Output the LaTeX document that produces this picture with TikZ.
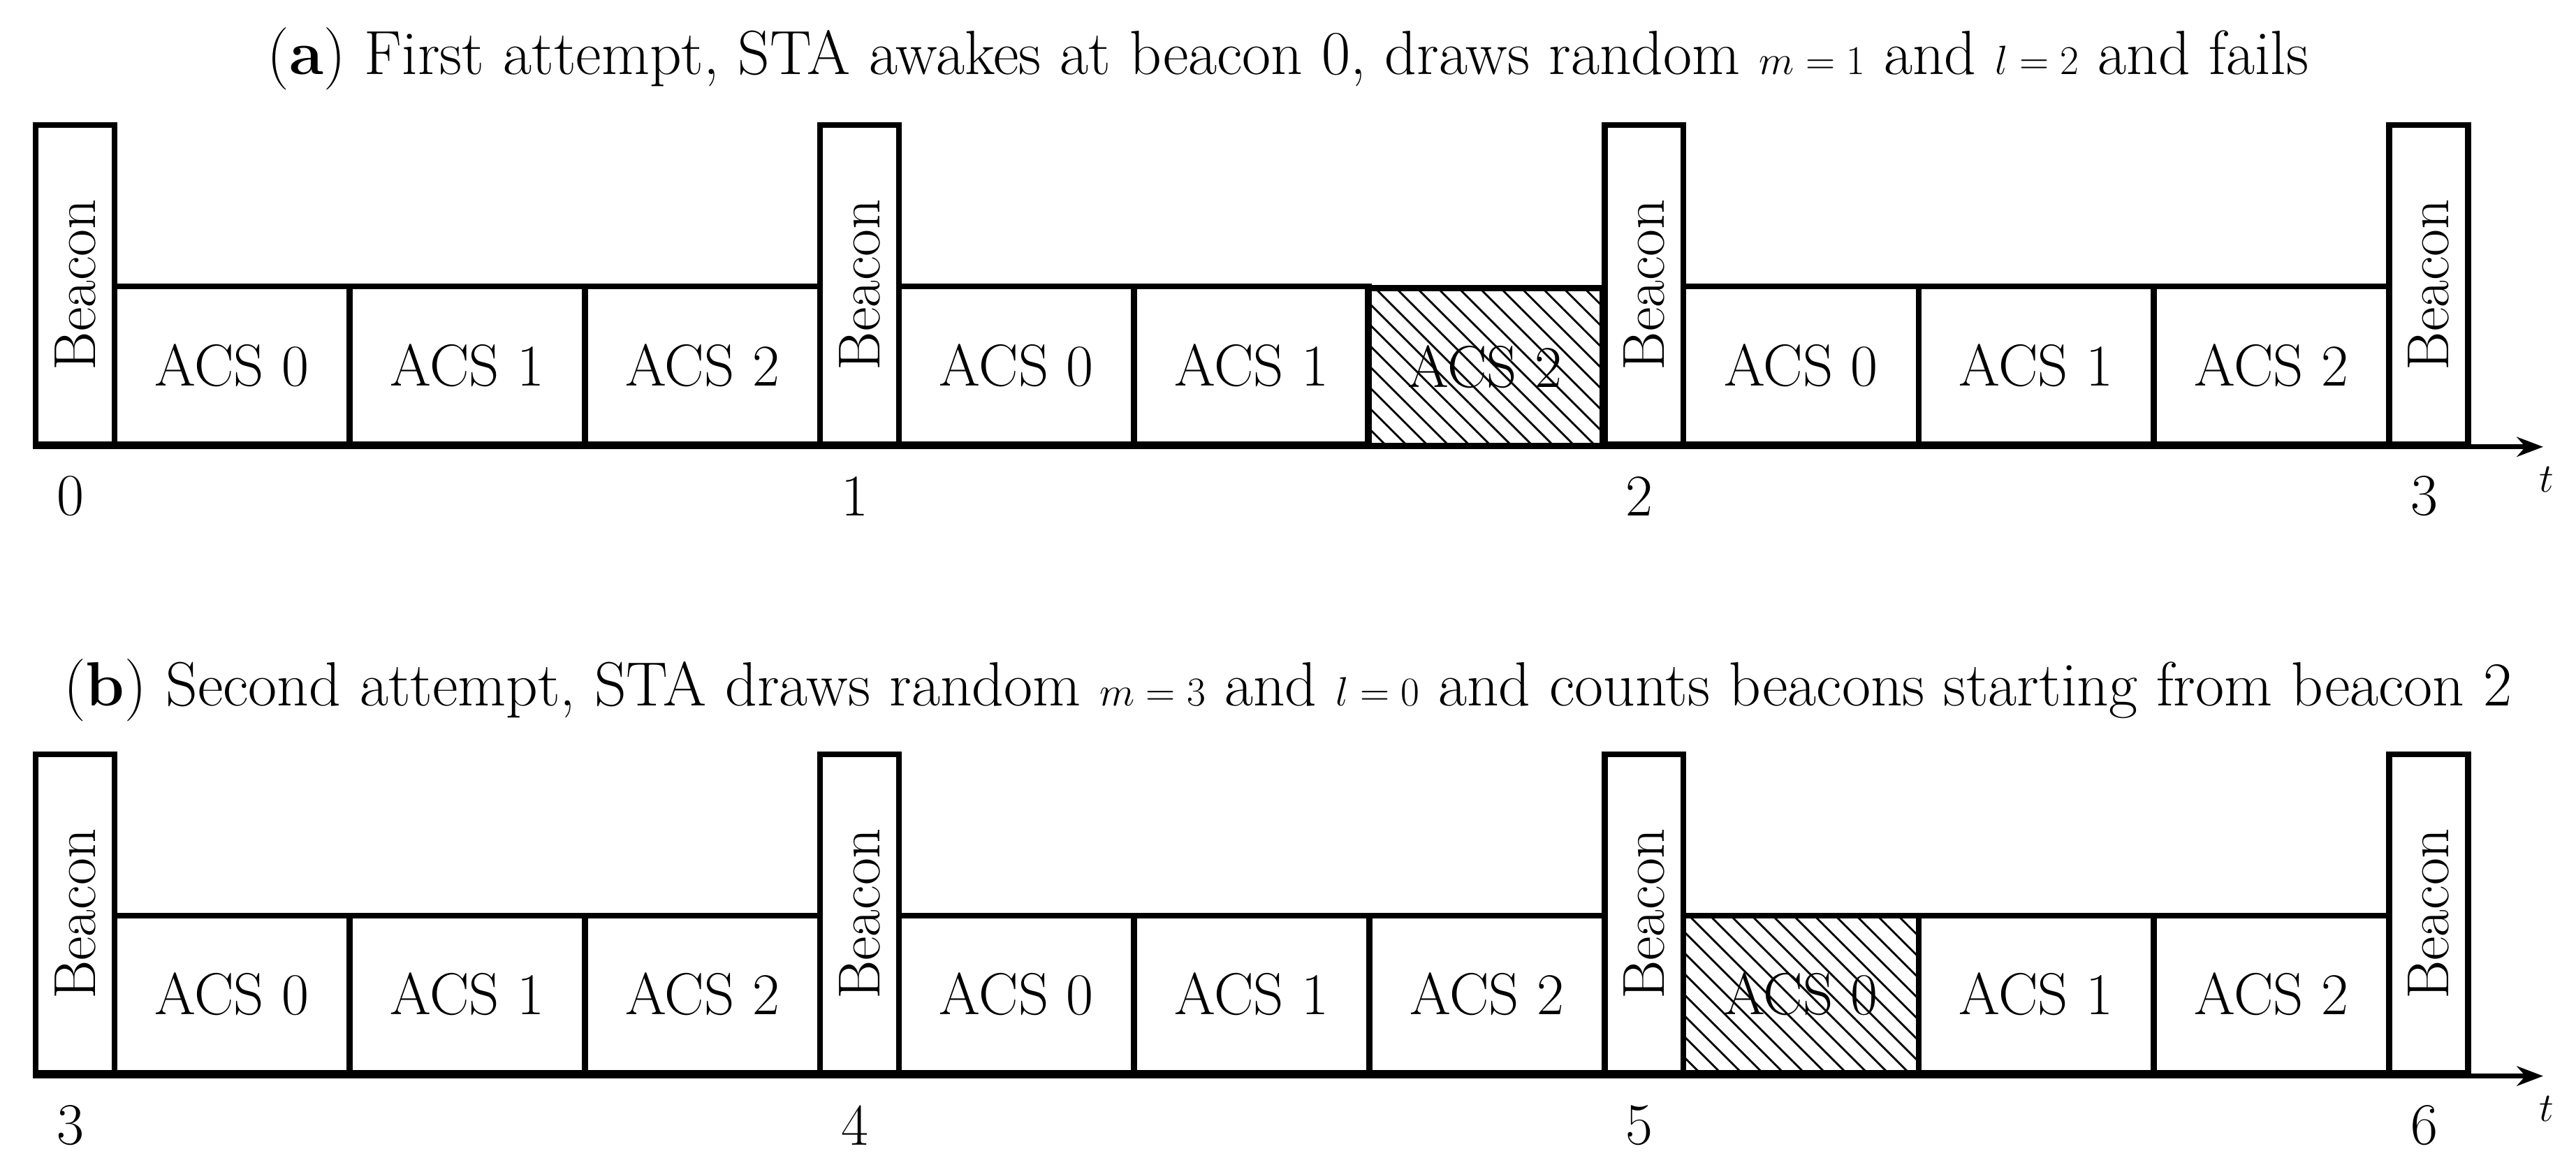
\documentclass[tikz,border=0pt]{standalone}
\usetikzlibrary{patterns.meta,arrows.meta}
\begin{document}
\begin{tikzpicture}[x=1pt,y=-1pt,
  box/.style={draw,line width=3.5pt,inner sep=0pt,font=\fontsize{36}{40}\selectfont},
  bcn/.style={box,minimum width=48pt,minimum height=194pt,anchor=south west},
  acs/.style={box,minimum width=143pt,minimum height=96pt,anchor=south west},
  lab/.style={font=\fontsize{36}{40}\selectfont},
  ttl/.style={font=\fontsize{38}{42}\selectfont},
  hatch/.style={pattern={Lines[angle=-45,distance=9pt,line width=1.2pt]}}]
\useasboundingbox (0,0) rectangle (1568,713);
\foreach \p/\yb/\ty/\s/\hb/\hi/\ttl in {a/272/36/0/1/2/{(\textbf{a}) First attempt, STA awakes at beacon 0, draws random $m=1$ and $l=2$ and fails},
  b/655/420/3/2/0/{(\textbf{b}) Second attempt, STA draws random $m=3$ and $l=0$ and counts beacons starting from beacon 2}}{
  \node[ttl] (title\p) at (784,\ty) {\ttl};
  \foreach \i in {0,1,2}{
    \pgfmathsetmacro{\bx}{20+\i*477.5}
    \node[bcn] (b\p\i) at (\bx,\yb) {};
    \node[lab,rotate=90] at (b\p\i.center) {Beacon};
    \foreach \j in {0,1,2}{
      \pgfmathsetmacro{\ax}{\bx+48+\j*143.2}
      \pgfmathtruncatemacro{\hh}{(\i==\hb)&&(\j==\hi)}
      \ifnum\hh=1
        \node[acs,hatch] (c\p\i\j) at (\ax,\yb) {ACS \j};
      \else
        \node[acs] (c\p\i\j) at (\ax,\yb) {ACS \j};
      \fi
    }
  }
  \node[bcn] (b\p3) at (1452.5,\yb) {};
  \node[lab,rotate=90] at (b\p3.center) {Beacon};
  \coordinate (s\p) at (20,\yb);
  \coordinate (e\p) at (1548,\yb);
  \draw[line width=3pt,-{Stealth[length=16pt,width=12pt]}] (s\p) -- (e\p);
  \node[lab] (t\p) at (1550,\yb+20) {$t$};
  \foreach \k in {0,1,2,3}{
    \pgfmathtruncatemacro{\n}{\s+\k}
    \node[lab] (n\p\k) at (43+\k*477.5,\yb+30) {\n};
  }
}
\end{tikzpicture}
\end{document}
